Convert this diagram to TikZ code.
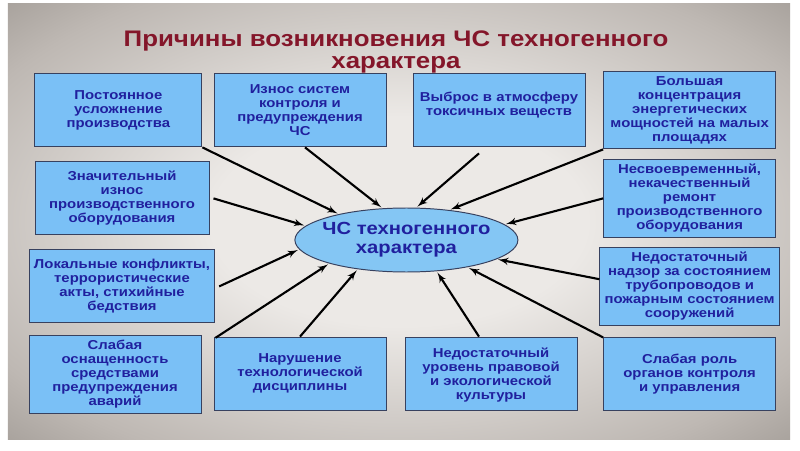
\documentclass[tikz,border=0pt]{standalone}
\usepackage{fontspec}
\setmainfont{Liberation Sans}[FakeStretch=1.15]
\usepackage{xcolor}
\usepackage{tikz}
\usetikzlibrary{shapes.geometric, arrows, positioning}
\definecolor{boxblue}{RGB}{122,192,246}
\definecolor{ovalblue}{RGB}{132,198,244}
\definecolor{boxline}{RGB}{55,65,95}
\definecolor{textblue}{RGB}{32,32,158}
\definecolor{titlered}{RGB}{132,22,42}
\definecolor{bgin}{RGB}{236,233,230}
\definecolor{bgmid}{RGB}{190,184,179}
\definecolor{bgout}{RGB}{136,130,124}
\definecolor{bgdark}{RGB}{108,103,98}
\pgfdeclareradialshading{bgshade}{\pgfpoint{0bp}{0bp}}{color(0bp)=(bgin); color(12bp)=(bgin); color(30bp)=(bgmid); color(44bp)=(bgout); color(72bp)=(bgdark)}
\tikzstyle{cause} = [rectangle, minimum width=4.3cm, minimum height=1.825cm, text centered, align=center, draw=boxline, line width=0.7pt, fill=boxblue, text=textblue, font=\bfseries\fontsize{9.2}{10}\selectfont]
\tikzstyle{result} = [ellipse, minimum width=5.575cm, minimum height=1.6cm, inner xsep=-0.5cm, inner ysep=0pt, align=center, draw=boxline, line width=0.7pt, fill=ovalblue, text=textblue, font=\bfseries\fontsize{12.5}{13.5}\selectfont]
\tikzstyle{heading} = [align=center, text=titlered, font=\bfseries\fontsize{16}{15.5}\selectfont]
\tikzstyle{arrow} = [line width=1.5pt, ->, >=latex', shorten >=1pt]

\begin{document}
\begin{tikzpicture}[node distance=2.2cm]

		% Background
		\useasboundingbox [fill=white] (0,0) rectangle (20,11.25);
		\shade [shading=bgshade] (0.2,0.275) rectangle (19.75,11.15);

		% Nodes
		\node (title) [heading] at (9.9,9.96) {Причины возникновения ЧС техногенного\\характера};
		\node (wear_control) [cause] at (7.5,8.49) {Износ систем\\контроля и\\предупреждения\\ЧС};
		\node (complexity) [cause, minimum width=4.175cm] at (2.96,8.49) {Постоянное\\усложнение\\производства};
		\node (emission) [cause, text depth=0.35cm] at (12.475,8.49) {Выброс в атмосферу\\токсичных веществ};
		\node (energy) [cause] at (17.24,8.49) {Большая\\концентрация\\энергетических\\мощностей на малых\\площадях};
		\node (wear_equip) [cause, minimum width=4.35cm, below of=complexity, xshift=0.09cm] {Значительный\\износ\\производственного\\оборудования};
		\node (conflicts) [cause, minimum width=4.35cm, below of=wear_equip] {Локальные конфликты,\\террористические\\акты, стихийные\\бедствия};
		\node (equipment) [cause, below of=conflicts, xshift=-0.175cm] {Слабая\\оснащенность\\средствами\\предупреждения\\аварий};
		\node (repair) [cause, below of=energy] {Несвоевременный,\\некачественный\\ремонт\\производственного\\оборудования};
		\node (supervision) [cause, below of=repair] {Недостаточный\\надзор за состоянием\\трубопроводов и\\пожарным состоянием\\сооружений};
		\node (control_role) [cause, below of=supervision] {Слабая роль\\органов контроля\\и управления};
		\node (discipline) [cause, below of=wear_control, node distance=6.58cm] {Нарушение\\технологической\\дисциплины};
		\node (culture) [cause, below of=emission, node distance=6.58cm, xshift=-0.2cm, text depth=0cm] {Недостаточный\\уровень правовой\\и экологической\\культуры};
		\node (emergency) [result] at (10.16,5.25) {ЧС техногенного\\характера};

		% Arrows
		\draw [arrow] (complexity.south east) -- (emergency.159);
		\draw [arrow] ([xshift=0.125cm]wear_control.south) -- (emergency.127);
		\draw [arrow] ([xshift=-0.5cm,yshift=-0.15cm]emission.south) -- (emergency.73);
		\draw [arrow] (energy.south west) -- (emergency.35);
		\draw [arrow] ([xshift=0.1cm]wear_equip.east) -- (emergency.172);
		\draw [arrow] (repair.west) -- (emergency.9);
		\draw [arrow] ([xshift=0.1cm]conflicts.east) -- (emergency.185);
		\draw [arrow] ([yshift=0.18cm]supervision.west) -- (emergency.348);
		\draw [arrow] ([xshift=0.35cm,yshift=-0.07cm]equipment.north east) -- (emergency.197);
		\draw [arrow] (discipline.north) -- (emergency.211);
		\draw [arrow] ([xshift=-0.3cm]culture.north) -- (emergency.314);
		\draw [arrow] (control_role.north west) -- (emergency.336);

	\end{tikzpicture}
\end{document}
